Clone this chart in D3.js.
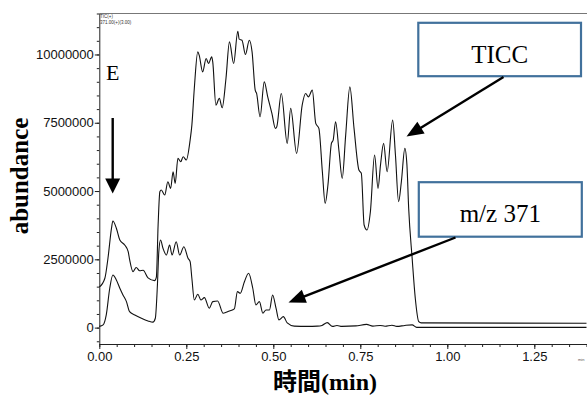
<!DOCTYPE html>
<html>
<head>
<meta charset="utf-8">
<script src="https://cdn.jsdelivr.net/npm/d3@7"></script>
<style>
  html, body { margin: 0; padding: 0; background: #fff; }
  svg { display: block; }
</style>
</head>
<body>
<svg id="chart" width="587" height="396"></svg>
<script>
// Total ion current chromatogram (TIC) — retention time (min) and abundance
const ticTime = [0.000,0.016,0.025,0.035,0.039,0.049,0.059,0.073,0.083,0.087,0.097,0.106,0.116,0.126,0.140,0.159,0.164,0.169,0.174,0.178,0.188,0.197,0.205,0.212,0.218,0.226,0.234,0.241,0.250,0.261,0.266,0.273,0.283,0.287,0.297,0.307,0.314,0.323,0.326,0.335,0.345,0.353,0.364,0.374,0.386,0.398,0.402,0.410,0.420,0.431,0.439,0.448,0.452,0.462,0.474,0.484,0.496,0.506,0.510,0.523,0.540,0.550,0.567,0.583,0.593,0.601,0.612,0.622,0.631,0.641,0.649,0.657,0.667,0.672,0.679,0.689,0.698,0.708,0.720,0.732,0.746,0.753,0.761,0.769,0.779,0.791,0.801,0.808,0.817,0.827,0.843,0.851,0.860,0.868,0.878,0.884,0.889,0.899,0.908,0.918,0.925,1.400];
const ticAbundance = [1480000,1807000,2549000,3636000,3903000,3636000,3208000,3025000,2780000,2500000,2050000,2200000,2080000,2100000,1820000,1720000,1850000,3756000,4974000,5037000,4854000,5340000,5099000,5706000,5282000,6196000,6072000,6255000,6134000,6865000,7414000,8756000,10095000,9974000,9363000,9854000,9671000,9912000,9729000,8146000,8391000,8047000,9122000,10461000,9671000,10852000,10560000,10523000,10000000,10523000,10095000,8694000,8573000,7718000,8998000,8449000,7842000,7293000,7352000,8573000,6745000,8025000,6379000,8146000,8573000,8449000,8694000,7476000,7293000,5706000,4550000,5219000,6745000,6865000,7535000,6437000,5465000,7048000,8815000,7293000,5768000,5647000,3756000,3573000,4243000,6317000,5099000,5951000,6745000,5706000,7597000,6317000,4609000,5340000,6562000,5951000,4367000,2538000,1075000,219000,172000,160000];

// Extracted ion chromatogram, m/z 371 (x3)
const mzTime = [0.000,0.011,0.020,0.030,0.039,0.049,0.059,0.068,0.078,0.087,0.102,0.121,0.140,0.154,0.161,0.167,0.171,0.176,0.183,0.193,0.202,0.209,0.221,0.231,0.243,0.255,0.261,0.266,0.273,0.283,0.292,0.302,0.316,0.326,0.340,0.356,0.374,0.388,0.397,0.405,0.417,0.429,0.441,0.450,0.460,0.470,0.479,0.489,0.498,0.508,0.516,0.529,0.540,0.560,0.598,0.626,0.640,0.655,0.670,0.683,0.697,0.737,0.768,0.786,0.807,0.821,0.841,0.855,0.878,0.899,0.912,1.400];
const mzAbundance = [44000,99000,465000,1441000,1928000,1745000,1441000,1196000,951000,585000,465000,344000,245000,200000,344000,1562000,2780000,3208000,2904000,2659000,3025000,2659000,3146000,2659000,2963000,2538000,2414000,1807000,1013000,1222000,1013000,1097000,710000,951000,977000,527000,611000,684000,1317000,1256000,1682000,1990000,1441000,830000,951000,527000,647000,647000,1196000,702000,282000,402000,172000,55000,44000,55000,80000,183000,44000,80000,44000,62000,117000,55000,80000,51000,88000,44000,80000,99000,10000,10000];

// Axis ticks
const xMajorTicks = [0, 0.25, 0.5, 0.75, 1.0, 1.25];
const yMajorTicks = [0, 2500000, 5000000, 7500000, 10000000];
const xMinorTicks = d3.range(0, 1.4001, 0.05);
const yMinorTicks = d3.range(-500000, 11500001, 500000);

const svg = d3.select("#chart");

const x = d3.scaleLinear().domain([0, 1.4]).range([99.3, 586.5]);
const y = d3.scaleLinear().domain([-600000, 11500000]).range([344, 13.5]);

const axisColor = "#222";
const tickFont = "'Liberation Sans', Arial, sans-serif";
const serif = "'Liberation Serif', 'Times New Roman', 'Noto Sans CJK JP', serif";

// frame top edge
svg.append("line")
  .attr("x1", 99.3).attr("x2", 587)
  .attr("y1", 13.5).attr("y2", 13.5)
  .attr("stroke", "#777").attr("stroke-width", 1);

// minor ticks
svg.append("g")
  .attr("transform", "translate(99.3,0)")
  .call(d3.axisLeft(y).tickValues(yMinorTicks).tickSize(2.5).tickFormat(""))
  .call(g => g.select(".domain").remove())
  .call(g => g.selectAll("line").attr("stroke", axisColor));

svg.append("g")
  .attr("transform", "translate(0,344)")
  .call(d3.axisBottom(x).tickValues(xMinorTicks).tickSize(3).tickFormat(""))
  .call(g => g.select(".domain").remove())
  .call(g => g.selectAll("line").attr("stroke", axisColor));

// major axes
const yAxis = svg.append("g")
  .attr("transform", "translate(99.3,0)")
  .call(d3.axisLeft(y).tickValues(yMajorTicks).tickSizeInner(4.5).tickSizeOuter(0)
        .tickPadding(1).tickFormat(d3.format("d")));
yAxis.select(".domain").attr("stroke", axisColor);
yAxis.selectAll("line").attr("stroke", axisColor);
yAxis.selectAll("text").attr("fill", "#111")
  .style("font-family", tickFont).style("font-size", "13px");

const xAxis = svg.append("g")
  .attr("transform", "translate(0,344)")
  .call(d3.axisBottom(x).tickValues(xMajorTicks).tickSizeInner(5).tickSizeOuter(0)
        .tickPadding(3).tickFormat(d3.format(".2f")));
xAxis.select(".domain").attr("stroke", axisColor);
xAxis.selectAll("line").attr("stroke", axisColor);
xAxis.selectAll("text").attr("fill", "#111")
  .style("font-family", tickFont).style("font-size", "13px");

// traces
const line = d3.line()
  .x(d => x(d[0]))
  .y(d => y(d[1]))
  .curve(d3.curveMonotoneX);

const ticSeries = d3.zip(ticTime, ticAbundance);
const mzSeries = d3.zip(mzTime, mzAbundance);

svg.append("path").datum(mzSeries)
  .attr("d", line).attr("fill", "none")
  .attr("stroke", "#111").attr("stroke-width", 1.1);

svg.append("path").datum(ticSeries)
  .attr("d", line).attr("fill", "none")
  .attr("stroke", "#111").attr("stroke-width", 1.1);

// trace header text
svg.append("text").attr("x", 100).attr("y", 17.6).text("TIC(+)")
  .style("font-family", tickFont).style("font-size", "4.5px").attr("fill", "#333");
svg.append("text").attr("x", 100).attr("y", 24.4).text("371.00(+)(3.00)")
  .style("font-family", tickFont).style("font-size", "4.5px").attr("fill", "#333");
svg.append("text").attr("x", 578).attr("y", 360.5).text("min")
  .style("font-family", tickFont).style("font-size", "4px").attr("fill", "#555");

// axis titles
svg.append("text")
  .attr("transform", "translate(28,176) rotate(-90)")
  .attr("text-anchor", "middle")
  .style("font-family", serif).style("font-weight", "bold").style("font-size", "25px")
  .attr("fill", "#000")
  .text("abundance");

svg.append("text")
  .attr("x", 273).attr("y", 390)
  .style("font-family", serif).style("font-weight", "bold").style("font-size", "24px")
  .attr("fill", "#000")
  .text("時間(min)");

// annotations
function arrow(x1, y1, x2, y2, headLen, headWidth) {
  const dx = x2 - x1, dy = y2 - y1;
  const len = Math.hypot(dx, dy);
  const ux = dx / len, uy = dy / len;
  const bx = x2 - ux * headLen, by = y2 - uy * headLen;
  svg.append("line")
    .attr("x1", x1).attr("y1", y1).attr("x2", bx + ux * 2).attr("y2", by + uy * 2)
    .attr("stroke", "#000").attr("stroke-width", 2.4);
  const px = -uy * headWidth / 2, py = ux * headWidth / 2;
  svg.append("polygon")
    .attr("points", [[x2, y2], [bx + px, by + py], [bx - px, by - py]].map(p => p.join(",")).join(" "))
    .attr("fill", "#000");
}

svg.append("text").attr("x", 106).attr("y", 80)
  .style("font-family", serif).style("font-size", "22px").attr("fill", "#000")
  .text("E");
arrow(112.7, 118, 112.7, 193.5, 15, 15);

function labelBox(bx, by, bw, bh, label, baseline) {
  svg.append("rect")
    .attr("x", bx).attr("y", by).attr("width", bw).attr("height", bh)
    .attr("fill", "#fff").attr("stroke", "#41719C").attr("stroke-width", 2.2);
  svg.append("text")
    .attr("x", bx + bw / 2).attr("y", baseline)
    .attr("text-anchor", "middle")
    .style("font-family", serif).style("font-size", "25px").attr("fill", "#000")
    .text(label);
}

labelBox(418.3, 22.8, 162.7, 53.4, "TICC", 62.7);
arrow(503.5, 77, 406.5, 136.5, 17, 14);

labelBox(418.8, 182.2, 163, 54.5, "m/z 371", 221.7);
arrow(455.5, 237.5, 288.5, 302.5, 17, 14);
</script>
</body>
</html>
